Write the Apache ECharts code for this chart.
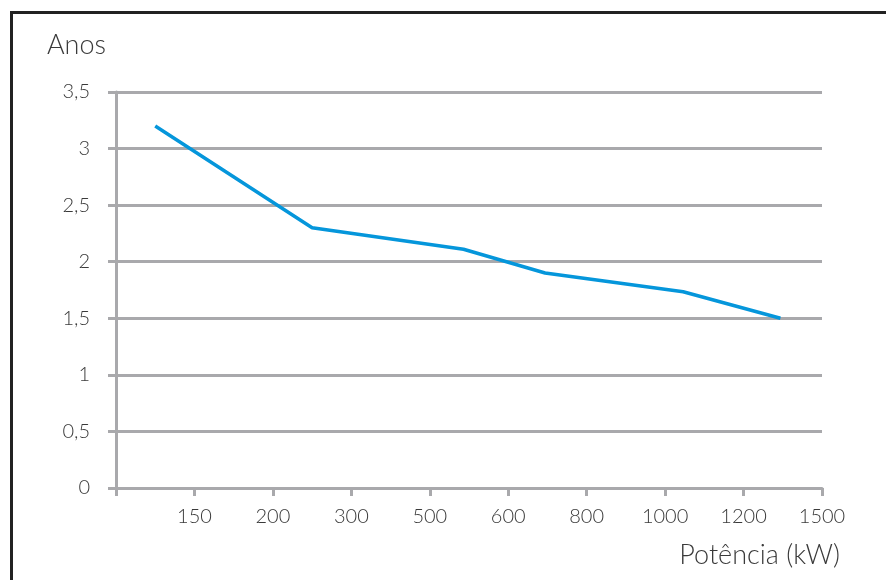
<!DOCTYPE html>
<html>
<head>
<meta charset="utf-8">
<script src="https://cdn.jsdelivr.net/npm/echarts@6/dist/echarts.min.js"></script>
<style>html,body{margin:0;padding:0;background:#fff}#c{width:886px;height:580px}</style>
</head>
<body>
<div id="c"></div>
<script>
// Tick labels of the x axis (index positions 0..9)
var xTickLabels = ['', '150', '200', '300', '500', '600', '800', '1000', '1200', '1500'];
// Series: position along the x axis (in tick units) and value in years
var seriesX = [0.5, 2.5, 4.43, 5.47, 7.23, 8.47];
var seriesY = [3.2, 2.3, 2.11, 1.9, 1.735, 1.5];
var yAxisName = 'Anos';
var xAxisName = 'Potência (kW)';

var data = seriesX.map(function (x, i) { return [x, seriesY[i]]; });
var font = 'Lato, "DejaVu Sans", sans-serif';
var grey = '#a9a9ac';
var txt = '#3a3a3a';

var chart = echarts.init(document.getElementById('c'), null, { renderer: 'canvas' });
chart.setOption({
  animation: false,
  backgroundColor: '#fff',
  grid: { left: 116, right: 64, top: 92, bottom: 92, containLabel: false },
  xAxis: {
    type: 'value', min: 0, max: 9, interval: 1,
    name: xAxisName, nameLocation: 'end', nameGap: 0,
    nameTextStyle: { fontFamily: font, fontWeight: 300, fontSize: 27, color: txt, align: 'right', verticalAlign: 'top', padding: [54, -18, 0, 0] },
    axisLine: { show: true, lineStyle: { color: grey, width: 3 } },
    axisTick: { show: true, length: 8, lineStyle: { color: grey, width: 3 } },
    splitLine: { show: false },
    axisLabel: { fontFamily: font, fontWeight: 300, fontSize: 20, color: txt, margin: 19,
      formatter: function (v) { return xTickLabels[Math.round(v)] || ''; } }
  },
  yAxis: {
    type: 'value', min: 0, max: 3.5, interval: 0.5,
    name: yAxisName, nameLocation: 'end', nameGap: 33,
    nameTextStyle: { fontFamily: font, fontWeight: 300, fontSize: 27, color: txt, align: 'right', padding: [0, 10, 0, 0] },
    axisLine: { show: true, lineStyle: { color: grey, width: 3 } },
    axisTick: { show: true, length: 8, lineStyle: { color: grey, width: 3 } },
    splitLine: { show: true, lineStyle: { color: grey, width: 3 } },
    axisLabel: { fontFamily: font, fontWeight: 300, fontSize: 20, color: txt, margin: 26,
      formatter: function (v) { return String(v).replace('.', ','); } }
  },
  series: [{
    type: 'line', data: data, showSymbol: false, symbol: 'none',
    lineStyle: { color: '#0596db', width: 3.5 }
  }],
  graphic: [{
    type: 'polyline', silent: true,
    shape: { points: [[11.5, 580], [11.5, 12.5], [886, 12.5]] },
    style: { stroke: '#222', lineWidth: 3, fill: null }
  }]
});
</script>
</body>
</html>
